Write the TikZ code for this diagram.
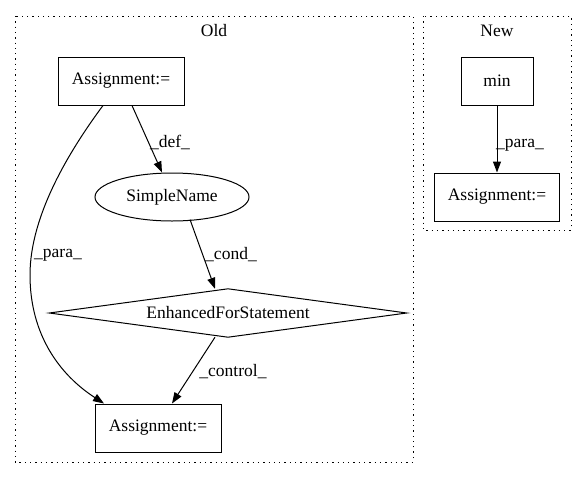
\documentclass[tikz,border=0pt]{standalone}
\usepackage{fontspec}
\setmainfont{Liberation Serif}
\usetikzlibrary{arrows.meta,calc,shapes.geometric}
\begin{document}
\begin{tikzpicture}[x=1pt,y=-1pt,
  every node/.style={font=\fontsize{17.5}{20}\selectfont},
  box/.style={draw,line width=1pt,minimum width=126pt,minimum height=48pt,inner sep=0pt},
  ell/.style={draw,line width=1pt,ellipse,minimum width=154pt,minimum height=48pt,inner sep=0pt},
  cluster/.style={draw,line width=1pt,dash pattern=on 1.3pt off 4pt},
  edge/.style={line width=1pt,-{Triangle[length=11pt,width=8pt]}},
  lbl/.style={inner sep=0pt}]
\useasboundingbox (0,0) rectangle (587,480);
\draw[cluster] (15,16) rectangle (413,462);
\draw[cluster] (423,16) rectangle (571,230);
\node[lbl] (oldl) at (214,31) {Old};
\node[lbl] (newl) at (497,31) {New};
\node[box] (a1) at (121,81) {Assignment:=};
\node[ell] (sn) at (172,197) {SimpleName};
\node[minimum width=357pt,minimum height=48pt,inner sep=0pt] (d) at (228,313) {EnhancedForStatement};
\draw[line width=1pt] (d.west)--(d.north)--(d.east)--(d.south)--cycle;
\node[box] (a3) at (158,428) {Assignment:=};
\node[box,minimum width=72pt] (mn) at (497,81) {min};
\node[box,minimum width=125pt] (a2) at (497,197) {Assignment:=};
\draw[edge] ([xshift=11pt]a1.south) -- ([xshift=-10pt]sn.north);
\node[lbl] (ldef) at (170,142) {\_def\_};
\draw[edge] ($(sn.south)+(18,-2)$) -- ($(d.north)+(-13,0)$);
\node[lbl] (lcond) at (231,255) {\_cond\_};
\draw[edge] ($(d.south)+(-13,0)$) -- ([xshift=14pt]a3.north);
\node[lbl] (lctrl) at (233,372) {\_control\_};
\draw[edge] ([xshift=-18pt]a1.south) .. controls (70,150) and (30,215) .. (30,275) .. controls (30,335) and (60,375) .. ([xshift=-54pt]a3.north);
\node[lbl] (lpara) at (58,255) {\_para\_};
\draw[edge] (mn) -- (a2);
\node[lbl] (lpara2) at (520,145) {\_para\_};
\end{tikzpicture}
\end{document}
